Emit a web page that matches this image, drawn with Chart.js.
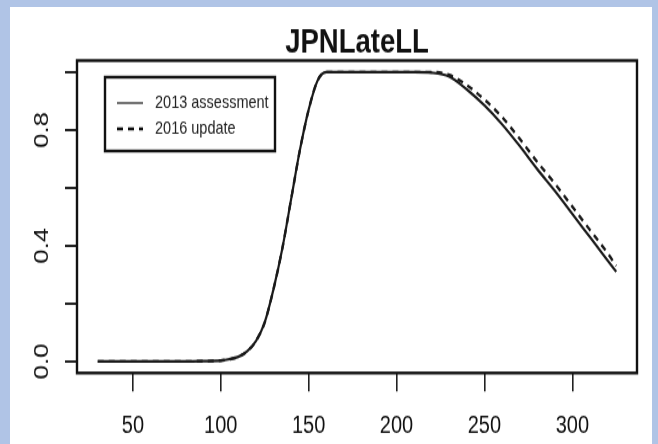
<!DOCTYPE html>
<html>
<head>
<meta charset="utf-8">
<script src="https://cdn.jsdelivr.net/npm/chart.js@4/dist/chart.umd.min.js"></script>
<style>
  html, body { margin: 0; padding: 0; background: #b0c4e6; width: 658px; height: 444px; overflow: hidden; }
  #panel { position: absolute; left: 10px; top: 7px; width: 642px; height: 437px; background: #fff; }
  #wrap { position: absolute; left: 0; top: 0; width: 642px; height: 355px; transform: scaleY(1.231); transform-origin: 0 0; }
</style>
</head>
<body>
<div id="panel"><div id="wrap"><canvas id="selChart" width="642" height="355"></canvas></div></div>
<script>
var chartTitle = 'JPNLateLL';
var seriesNames = ['2013 assessment', '2016 update'];

var lengths = [30, 40, 50, 60, 70, 80, 90, 100, 105, 110, 115, 120, 125, 130, 135, 140, 145, 150, 155, 160,
               170, 180, 190, 200, 210, 220, 230, 240, 250, 260, 270, 280, 290, 300, 310, 320, 325];
var sel2013 = [0, 0, 0, 0, 0, 0, 0.001, 0.003, 0.008, 0.016, 0.035, 0.07, 0.135, 0.25, 0.39, 0.56, 0.73, 0.87, 0.97, 1.0,
               1.0, 1.0, 1.0, 1.0, 1.0, 0.998, 0.985, 0.94, 0.885, 0.82, 0.745, 0.665, 0.59, 0.51, 0.43, 0.35, 0.31];
var sel2016 = [0, 0, 0, 0, 0, 0, 0.001, 0.003, 0.008, 0.016, 0.035, 0.07, 0.135, 0.25, 0.39, 0.56, 0.73, 0.87, 0.97, 1.0,
               1.0, 1.0, 1.0, 1.0, 1.0, 1.0, 0.99, 0.955, 0.905, 0.845, 0.77, 0.69, 0.615, 0.535, 0.455, 0.375, 0.33];

var xTicks = [50, 100, 150, 200, 250, 300];
var yTicks = [0, 0.2, 0.4, 0.6, 0.8, 1.0];
var yTickLabels = ['0.0', '', '0.4', '', '0.8', ''];

var FONT = '"Liberation Sans Narrow", "Arial Narrow", "Liberation Sans", Arial, sans-serif';

function toPoints(xs, ys) {
    return xs.map(function (x, i) { return { x: x, y: ys[i] }; });
}

// box round the plot, rotated y labels, legend
var rPlotStuff = {
    id: 'rPlotStuff',
    afterDraw: function (chart) {
        var ctx = chart.ctx;
        var area = chart.chartArea;
        var yScale = chart.scales.y;

        ctx.save();
        ctx.strokeStyle = '#111';
        ctx.lineWidth = 2.4;
        ctx.strokeRect(area.left, area.top, area.right - area.left, area.bottom - area.top);

        ctx.fillStyle = '#111';
        ctx.font = '21px ' + FONT;
        ctx.textAlign = 'center';
        ctx.textBaseline = 'middle';
        yTicks.forEach(function (v, i) {
            if (!yTickLabels[i]) return;
            ctx.save();
            ctx.translate(32, yScale.getPixelForValue(v));
            ctx.rotate(-Math.PI / 2);
            ctx.fillText(yTickLabels[i], 0, 0);
            ctx.restore();
        });

        // legend
        var lx = 95, ly = 57, lw = 170, lh = 60;
        ctx.lineWidth = 2.4;
        ctx.strokeStyle = '#111';
        ctx.strokeRect(lx, ly, lw, lh);
        ctx.font = '14.5px ' + FONT;
        ctx.textAlign = 'left';
        chart.data.datasets.forEach(function (ds, i) {
            var rowY = ly + 21 + i * 21;
            ctx.beginPath();
            ctx.setLineDash(ds.borderDash || []);
            ctx.lineWidth = i === 0 ? 1.5 : 2.4;
            ctx.strokeStyle = i === 0 ? '#444' : '#111';
            ctx.moveTo(lx + 12, rowY);
            ctx.lineTo(lx + 38, rowY);
            ctx.stroke();
            ctx.setLineDash([]);
            ctx.fillStyle = '#222';
            ctx.fillText(ds.label, lx + 50, rowY);
        });
        ctx.restore();
    }
};

var ctxSel = document.getElementById('selChart').getContext('2d');
var selChart = new Chart(ctxSel, {
    type: 'line',
    data: {
        datasets: [{
            label: seriesNames[0],
            data: toPoints(lengths, sel2013),
            borderColor: '#1a1a1a',
            borderWidth: 2.2,
            pointRadius: 0,
            cubicInterpolationMode: 'monotone',
            fill: false
        }, {
            label: seriesNames[1],
            data: toPoints(lengths, sel2016),
            borderColor: '#1a1a1a',
            borderWidth: 2.4,
            borderDash: [6, 5],
            pointRadius: 0,
            cubicInterpolationMode: 'monotone',
            fill: false
        }]
    },
    options: {
        responsive: false,
        animation: false,
        layout: { padding: { right: 15 } },
        plugins: {
            legend: { display: false },
            tooltip: { enabled: false },
            title: {
                display: true,
                text: chartTitle,
                fullSize: false,
                color: '#111',
                font: { family: FONT, size: 27.5, weight: 'bold', lineHeight: 1 },
                padding: { top: 16, bottom: 0 }
            }
        },
        scales: {
            x: {
                type: 'linear',
                min: 18.2,
                max: 336.8,
                afterBuildTicks: function (scale) {
                    scale.ticks = xTicks.map(function (v) { return { value: v }; });
                },
                afterFit: function (scale) { scale.height = 57.7; },
                border: { display: false },
                grid: { drawOnChartArea: false, tickLength: 15, lineWidth: 1.6, color: '#222' },
                ticks: {
                    autoSkip: false,
                    maxRotation: 0,
                    padding: 16,
                    color: '#111',
                    font: { family: FONT, size: 20 },
                    callback: function (v) { return String(v); }
                }
            },
            y: {
                type: 'linear',
                min: -0.04,
                max: 1.04,
                afterBuildTicks: function (scale) {
                    scale.ticks = yTicks.map(function (v) { return { value: v }; });
                },
                afterFit: function (scale) { scale.width = 67; },
                border: { display: false },
                grid: { drawOnChartArea: false, tickLength: 12, lineWidth: 2, color: '#222' },
                ticks: { display: false }
            }
        }
    },
    plugins: [rPlotStuff]
});
</script>
</body>
</html>
